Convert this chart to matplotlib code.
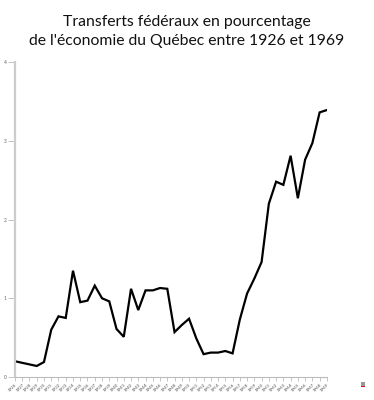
import numpy as np
import matplotlib.pyplot as plt
from matplotlib.patches import Rectangle

years = list(range(1926, 1970))
values = [0.20, 0.18, 0.16, 0.14, 0.19, 0.60, 0.77, 0.75, 1.35, 0.95,
          0.97, 1.16, 1.00, 0.96, 0.61, 0.51, 1.12, 0.85, 1.10, 1.10,
          1.13, 1.12, 0.57, 0.66, 0.74, 0.49, 0.29, 0.31, 0.31, 0.33,
          0.30, 0.73, 1.06, 1.25, 1.46, 2.20, 2.48, 2.44, 2.81, 2.27,
          2.76, 2.97, 3.36, 3.39]
y_ticks = [0, 1, 2, 3, 4]

title = "Transferts fédéraux en pourcentage\nde l'économie du Québec entre 1926 et 1969"

plt.rcParams['font.family'] = ['Lato', 'DejaVu Sans']

fig = plt.figure(figsize=(3.74, 4.0), dpi=100)
ax = fig.add_axes([0.040, 0.0575, 0.834, 0.7875])

ax.plot(years, values, color='black', lw=1.6, solid_joinstyle='miter')

ax.set_xlim(years[0], years[-1])
ax.set_ylim(0, 4)
ax.set_yticks(y_ticks)
ax.set_xticks(years)
ax.set_xticklabels([str(y) for y in years], rotation=45, ha='right',
                   rotation_mode='anchor', fontsize=3.2, color='#555555')
ax.set_yticklabels([str(v) for v in y_ticks], fontsize=3.5, color='#666666')

for s in ['top', 'right']:
    ax.spines[s].set_visible(False)
ax.spines['left'].set_color('#cccccc')
ax.spines['left'].set_linewidth(1.6)
ax.spines['bottom'].set_color('#bbbbbb')
ax.spines['bottom'].set_linewidth(0.8)
ax.tick_params(axis='y', length=5, width=0.6, color='#bbbbbb', pad=1)
ax.tick_params(axis='x', length=3, width=0.6, color='#bbbbbb', pad=1)

fig.text(0.5, 0.962, title, ha='center', va='top', fontsize=11.3,
         linespacing=1.4, color='#111111')

# small icon in the bottom right corner
fig.patches.append(Rectangle((0.965, 0.035), 0.012, 0.011, transform=fig.transFigure,
                             facecolor='#999999', edgecolor='none'))
fig.patches.append(Rectangle((0.965, 0.032), 0.012, 0.004, transform=fig.transFigure,
                             facecolor='#cc2222', edgecolor='none'))

fig.savefig('out.png', dpi=100, facecolor='white')
